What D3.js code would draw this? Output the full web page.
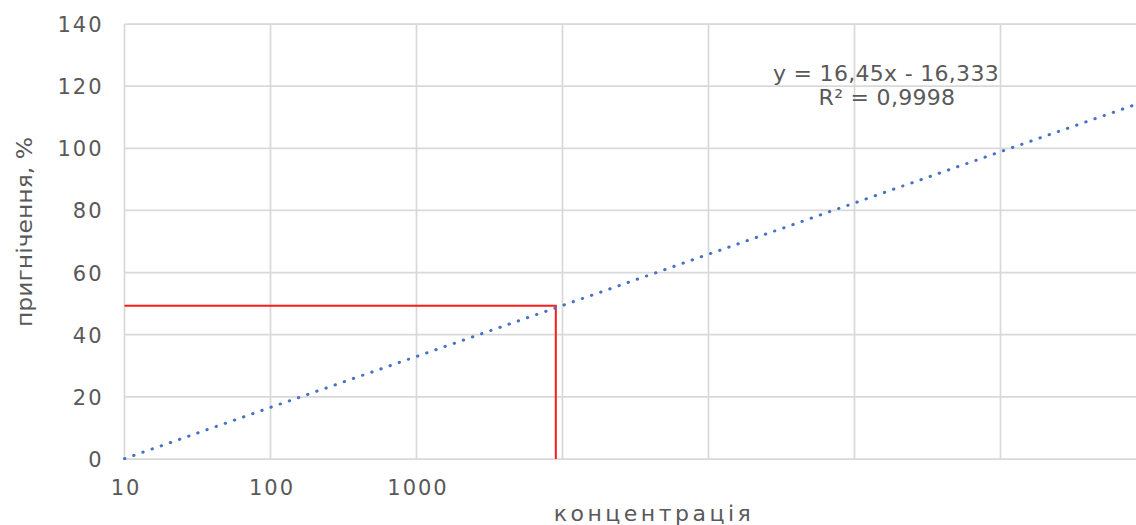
<!DOCTYPE html>
<html><head><meta charset="utf-8">
<script src="https://cdn.jsdelivr.net/npm/d3@7"></script>
<style>
html,body{margin:0;padding:0;background:#fff;}
svg{display:block;}
text{font-family:"DejaVu Sans",sans-serif;fill:#595959;}
</style></head>
<body>
<svg id="c" width="1136" height="525"></svg>
<script>
// Data
const xTickValues = [10, 100, 1000, 10000, 100000, 1000000, 10000000, 100000000];
const xTickLabels = ["10", "100", "1000", "", "", "", "", ""];
const yTickValues = [0, 20, 40, 60, 80, 100, 120, 140];
const trendConc = [10, 100, 1000, 10000, 100000, 1000000, 10000000, 100000000];
const trendValues = [0.1, 16.6, 33.0, 49.4, 65.9, 82.4, 98.9, 115.3];
const markerConc = [9000];
const markerValue = [49.3];
const equationLines = ["y = 16,45x - 16,333", "R² = 0,9998"];
const xTitle = "концентрація";
const yTitle = "пригнічення, %";

(function () {
const svg = d3.select("#c");
const pL = 124.5, pR = 124.5 + 7 * 146, pT = 24, pB = 459;
const x = d3.scaleLog().domain([10, 1e8]).range([pL, pR]);
const y = d3.scaleLinear().domain([0, 140]).range([pB, pT]);

// gridlines
const g = svg.append("g");
g.selectAll("line.h").data(yTickValues).join("line").attr("class", "h")
  .attr("x1", pL).attr("x2", pR)
  .attr("y1", d => y(d)).attr("y2", d => y(d))
  .attr("stroke", "#d9d9d9").attr("stroke-width", 1.75);
g.selectAll("line.v").data(xTickValues).join("line").attr("class", "v")
  .attr("y1", pT).attr("y2", pB)
  .attr("x1", d => x(d)).attr("x2", d => x(d))
  .attr("stroke", "#d9d9d9").attr("stroke-width", 1.75);

// axes labels
const yAxis = d3.axisLeft(y).tickValues(yTickValues).tickSize(0).tickPadding(21);
const ya = svg.append("g").attr("transform", `translate(${pL},0)`).call(yAxis);
ya.select(".domain").remove();
ya.selectAll("text").style("font-size", "21px").style("letter-spacing", "2px")
  .style("font-family", '"DejaVu Sans",sans-serif').attr("fill", "#595959").attr("dy", "0.36em");

const xAxis = d3.axisBottom(x).tickValues(xTickValues)
  .tickFormat((d, i) => xTickLabels[i]).tickSize(0).tickPadding(21);
const xa = svg.append("g").attr("transform", `translate(0,${pB})`).call(xAxis);
xa.select(".domain").remove();
xa.selectAll("text").style("font-size", "21px").style("letter-spacing", "2px")
  .style("font-family", '"DejaVu Sans",sans-serif').attr("fill", "#595959")
  .attr("dx", "1px");

// red marker lines
const mx = x(markerConc[0]), my = y(markerValue[0]);
svg.append("path")
  .attr("d", d3.line()([[pL, my], [mx, my], [mx, pB]]))
  .attr("fill", "none").attr("stroke", "#ff1a1a").attr("stroke-width", 2);

// dotted trendline
const line = d3.line().x((d, i) => x(trendConc[i])).y(d => y(d));
svg.append("path").datum(trendValues)
  .attr("d", line)
  .attr("fill", "none").attr("stroke", "#4472c4")
  .attr("stroke-width", 3).attr("stroke-linecap", "round")
  .attr("stroke-dasharray", "0.4 9.3");

// equation
svg.append("text").attr("x", 886).attr("y", 81).attr("text-anchor", "middle")
  .style("font-size", "22px").style("letter-spacing", "0.3px").text(equationLines[0]);
svg.append("text").attr("x", 887).attr("y", 105).attr("text-anchor", "middle")
  .style("font-size", "22px").style("letter-spacing", "0.3px").text(equationLines[1]);

// axis titles
svg.append("text").attr("x", 654).attr("y", 521).attr("text-anchor", "middle")
  .style("font-size", "22px").style("letter-spacing", "3.5px").text(xTitle);
svg.append("text").attr("transform", "translate(32,232) rotate(-90)")
  .attr("text-anchor", "middle")
  .attr("textLength", 190).attr("lengthAdjust", "spacingAndGlyphs")
  .style("font-size", "21px").text(yTitle);
})();
</script>
</body></html>
